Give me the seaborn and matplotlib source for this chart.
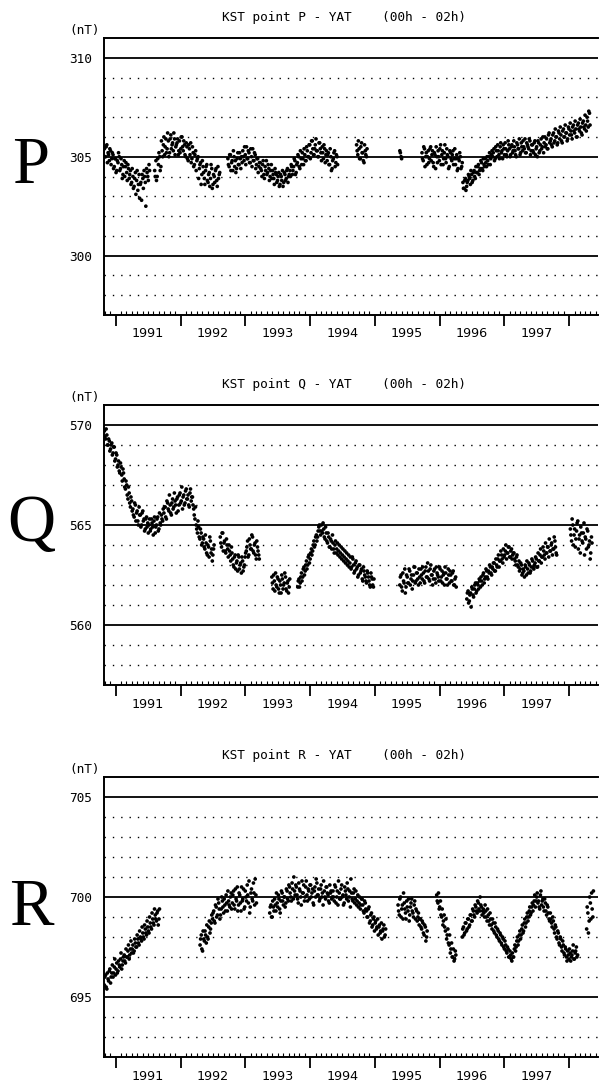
import numpy as np
import pandas as pd
import matplotlib
matplotlib.use("Agg")
import matplotlib.pyplot as plt
import matplotlib.dates as mdates
import matplotlib.transforms as mtransforms
import matplotlib.ticker as mticker
import seaborn as sns
from datetime import datetime

# ---------------- data ----------------
panel_letters = ["P", "Q", "R"]
panel_titles = ["KST point P - YAT    (00h - 02h)",
                "KST point Q - YAT    (00h - 02h)",
                "KST point R - YAT    (00h - 02h)"]
y_limits = [(297, 311), (557, 571), (692, 706)]
y_major = [[300, 305, 310], [560, 565, 570], [695, 700, 705]]
year_labels = [1991, 1992, 1993, 1994, 1995, 1996, 1997]
SAMPLE_DAYS = 7

# --- point P : first reading of the cloud ---
P_starts = ["1990-10-28", "1991-08-08", "1992-09-24", "1994-09-20", "1995-05-22", "1995-09-24"]
P_values = [
    [305.4, 305.0, 305.6, 305.2, 304.8, 305.3, 304.9, 305.1, 304.5, 304.9, 304.3, 304.7, 305.0,
     304.4, 304.6, 304.1, 304.8, 304.5, 304.2, 304.6, 303.9, 304.3, 303.7, 304.0, 303.5, 304.2,
     303.8, 303.3, 304.1, 303.6, 302.8, 303.9, 304.3, 303.7, 304.4, 304.0, 304.6],
    [304.3, 304.8, 304.0, 304.6, 305.0, 304.5, 305.3, 305.6, 305.1, 305.9, 305.4, 305.8, 305.2,
     306.1, 305.6, 305.3, 305.9, 305.5, 305.7, 305.1, 305.8, 305.4, 306.0, 305.3, 305.6, 305.0,
     305.5, 304.8, 305.4, 305.7, 304.9, 305.2, 304.6, 305.3, 304.8, 305.0, 304.4, 304.7, 304.1,
     304.5, 303.9, 304.3, 304.6, 303.7, 304.2, 303.9, 304.4, 303.6, 304.0, 304.3, 303.8, 304.5, 304.1],
    [304.9, 304.5, 305.1, 304.7, 304.3, 305.0, 304.8, 304.4, 305.2, 304.6, 304.9, 305.0,
     305.3, 304.8, 305.1, 305.5, 304.9, 305.2, 304.7, 305.0, 305.4, 304.8, 305.1, 304.6, 304.9, 304.5,
     304.7, 304.3, 304.6, 304.1, 304.5, 304.8, 304.2, 304.4, 304.0, 304.6, 304.3, 303.9, 304.4, 304.1,
     303.8, 304.2, 303.6, 304.0, 304.3, 303.7, 304.1, 303.9, 304.4, 304.0,
     304.3, 304.6, 304.1, 304.5, 304.8, 304.2, 304.7, 305.0, 304.4, 304.9, 305.2, 304.6, 305.1, 304.8,
     305.3, 305.0, 305.6, 305.2, 305.8, 305.1, 305.4, 305.9, 305.3, 305.0, 305.7, 305.2, 305.5, 304.9,
     305.4, 305.1,
     304.8, 305.2, 304.6, 305.0, 304.4, 304.9, 305.3, 304.7, 305.0],
    [305.6, 305.1, 305.4, 304.9, 305.7, 305.2, 304.7, 305.3, 305.0],
    [305.3, 305.0],
    [305.2, 304.8, 305.4, 305.0, 304.6, 305.3, 304.9, 305.5, 305.1, 304.7, 305.2, 304.4, 305.0, 305.3,
     304.8, 305.6, 305.1, 304.6, 305.2, 304.9, 305.4, 305.0, 304.5, 305.2, 304.8, 305.3, 304.9, 304.6,
     305.1, 304.4, 304.8, 305.0, 304.5,
     303.7, 303.4, 303.9, 303.5, 303.8, 304.0, 303.6, 304.1, 303.8, 304.3, 303.9, 304.2, 304.5, 304.1,
     304.4, 304.7, 304.3, 304.6, 304.9, 304.5, 304.8, 305.0, 304.6, 305.1,
     305.0, 305.4, 304.9, 305.3, 305.6, 305.1, 305.5, 305.2, 304.9, 305.4, 305.7, 305.1, 305.3, 305.6,
     305.0, 305.5, 305.2, 305.8, 305.3, 305.0, 305.6, 305.4, 305.1, 305.7, 305.3, 305.5, 305.9, 305.2,
     305.6, 305.4, 305.8, 305.3,
     305.6, 305.2, 305.8, 305.4, 305.0, 305.7, 305.3, 305.9, 305.5, 305.2, 306.0, 305.6, 305.4, 306.1,
     305.7, 305.9, 305.5, 306.2, 305.8, 306.0, 305.6, 306.3, 305.9, 306.1, 305.7, 306.4, 306.0, 306.2,
     305.8, 306.5, 306.1, 306.3, 305.9, 306.6, 306.2, 306.4, 306.0, 306.7, 306.3, 306.5, 306.1, 306.8,
     306.4, 306.6, 307.0, 306.5, 307.2],
]
# --- point P : second reading (mid-week) ---
P_starts_b = ["1990-10-31", "1991-08-11", "1992-09-27", "1994-09-23", "1995-05-25", "1995-09-27"]
P_values_b = [
    [305.0, 305.5, 304.7, 305.1, 305.4, 304.6, 305.2, 304.4, 304.9, 304.2, 304.8, 305.2, 304.3,
     304.9, 303.9, 304.5, 304.0, 304.7, 303.8, 304.4, 304.1, 303.6, 304.4, 303.4, 303.9, 303.1,
     304.3, 303.6, 302.9, 303.7, 304.1, 303.4, 304.0, 302.5, 304.2, 303.8, 304.3],
    [304.0, 303.8, 304.9, 305.2, 304.3, 305.8, 305.0, 306.0, 305.5, 305.2, 306.2, 305.0, 305.9,
     305.4, 305.7, 306.2, 305.1, 305.6, 305.9, 305.3, 305.2, 306.0, 305.5, 305.8, 305.1, 305.7,
     304.9, 305.6, 305.1, 304.7, 305.5, 304.5, 305.1, 304.3, 304.9, 303.9, 304.6, 303.6, 304.8,
     304.2, 303.6, 304.5, 303.8, 304.1, 303.5, 304.6, 303.4, 304.1, 303.7, 304.4, 303.5, 303.9, 304.2],
    [304.6, 305.1, 304.3, 304.8, 305.3, 304.5, 304.2, 304.9, 304.6, 305.2, 304.4, 304.7,
     305.0, 305.5, 304.6, 304.9, 305.3, 304.7, 305.4, 304.5, 304.8, 305.2, 304.4, 304.9, 304.2, 304.7,
     304.4, 304.0, 304.8, 303.9, 304.3, 304.1, 304.6, 303.8, 304.3, 303.9, 304.1, 303.6, 304.2, 303.7,
     304.0, 303.5, 304.1, 303.8, 303.5, 304.2, 303.8, 304.3, 303.7, 304.1,
     304.0, 304.5, 304.3, 304.9, 304.1, 304.6, 305.1, 304.5, 305.3, 304.6, 304.9, 305.4, 304.8, 305.5,
     305.0, 305.6, 304.9, 305.8, 305.4, 305.1, 305.6, 305.3, 305.0, 305.7, 305.4, 304.8, 305.2, 305.6,
     304.7, 305.3,
     305.1, 304.6, 305.4, 304.3, 304.8, 305.2, 304.5, 305.1, 304.6],
    [305.3, 305.8, 304.9, 305.5, 305.2, 304.8, 305.6, 305.1, 305.4],
    [305.2, 304.9],
    [304.9, 305.5, 304.5, 305.2, 305.0, 304.7, 305.4, 304.8, 305.3, 304.5, 305.1, 305.5, 304.7, 305.0,
     305.4, 304.6, 305.3, 304.9, 305.6, 304.7, 305.1, 304.4, 305.3, 304.9, 305.1, 304.6, 305.4, 304.9,
     304.3, 304.9, 305.2, 304.4, 304.7,
     303.4, 303.8, 303.3, 303.7, 304.1, 303.9, 304.3, 303.7, 304.2, 304.0, 304.5, 304.2, 304.6, 304.3,
     304.8, 304.4, 304.9, 304.5, 304.7, 305.0, 304.6, 305.2, 304.9, 305.3,
     305.2, 304.8, 305.5, 305.0, 305.3, 304.9, 305.7, 305.3, 305.6, 305.1, 305.4, 305.0, 305.8, 305.4,
     305.1, 305.6, 305.3, 305.5, 305.1, 305.7, 305.4, 305.9, 305.2, 305.5, 305.8, 305.4, 305.2, 305.7,
     305.5, 305.9, 305.1, 305.6,
     305.3, 305.7, 305.1, 305.5, 305.8, 305.2, 305.6, 305.4, 306.0, 305.7, 305.5, 305.9, 305.4, 306.2,
     305.8, 305.6, 306.1, 305.7, 306.4, 306.0, 305.7, 306.2, 306.5, 305.8, 306.3, 306.0, 306.6, 306.2,
     305.9, 306.4, 306.7, 306.1, 306.5, 306.3, 306.8, 306.0, 306.6, 306.4, 306.9, 306.2, 306.7, 306.5,
     307.1, 306.3, 306.8, 307.3, 306.6],
]

# --- point Q ---
Q_starts = ["1990-10-28", "1992-08-12", "1993-05-30", "1993-10-23", "1995-05-22", "1996-06-03", "1998-01-08"]
Q_values = [
    [569.7, 569.3, 569.5, 569.0, 569.2, 568.8, 569.1,
     568.6, 568.9, 568.3, 568.5, 568.0, 567.7, 568.1, 567.5, 567.8, 567.3,
     566.8, 567.0, 566.3, 566.6, 565.9, 566.2,
     565.8, 565.4, 566.0, 565.6, 565.2, 565.9, 565.5, 565.0, 565.7, 565.3, 564.8, 565.4, 565.1,
     565.0, 564.7, 565.3, 564.9, 565.2, 564.6, 565.0, 565.4, 564.8, 565.1, 565.5, 565.2,
     565.6, 565.9, 565.3, 566.1, 565.7, 566.0, 565.5, 566.3, 565.9, 566.2, 565.6, 566.4, 566.0, 566.6,
     566.2, 565.8, 566.5, 566.1, 566.8, 566.3, 566.0, 566.6, 566.2, 566.4,
     565.8, 565.3, 565.0, 564.6, 564.9, 564.3, 564.6, 564.1,
     564.3, 563.8, 564.1, 563.5, 563.9, 564.4, 563.6, 563.2, 563.8],
    [564.4, 563.9, 564.6, 564.1, 563.7, 564.3, 563.8, 564.0, 563.5, 563.9,
     563.3, 562.9, 563.5, 563.1, 562.7, 563.4, 563.0, 562.6, 563.2, 562.9, 563.4,
     563.7, 564.2, 563.5, 564.0, 563.8, 564.4, 563.6, 564.1, 563.3, 563.9, 563.5],
    [562.4, 561.8, 562.2, 562.6, 561.9, 562.3, 561.6, 562.0, 562.5, 561.8, 562.1, 562.4, 561.7, 562.2, 561.9],
    [561.9, 562.3, 562.1, 562.6, 562.4, 562.9, 562.7, 563.2, 563.0, 563.5, 563.3, 563.8, 563.7, 564.2,
     564.0, 564.5, 564.4, 564.9, 564.7,
     565.0, 564.6, 564.8, 564.3, 564.6, 564.1, 564.4, 563.9, 564.2, 564.5, 563.8, 564.0, 563.6, 564.1,
     563.7, 563.4, 563.9, 563.5, 563.2, 563.7, 563.3, 563.0, 563.5, 563.1, 562.8, 563.4, 563.0, 562.7,
     563.2, 562.9, 562.5, 563.0, 562.7, 562.3, 562.9, 562.5, 562.2, 562.7, 562.4, 562.0, 562.6, 562.3, 561.9],
    [562.0, 562.5, 561.7, 562.2, 562.8, 561.9, 562.4, 562.1, 562.7, 562.3, 561.8, 562.5, 562.9, 562.2,
     562.6, 562.0, 562.4, 562.8, 562.3, 562.6, 562.1, 562.9, 562.4, 562.7, 562.2, 563.0, 562.5, 562.3,
     562.8, 562.1, 562.6, 562.4, 562.9, 562.2, 562.7, 562.5, 562.0, 562.6, 562.3, 562.8, 562.1, 562.5,
     562.2, 562.7, 562.0, 562.4],
    [561.3, 561.7, 561.2, 561.6, 561.9, 561.5, 561.8, 562.1, 561.7, 562.0, 562.3, 561.9, 562.2, 562.5,
     562.1, 562.4, 562.7, 562.3, 562.6, 562.9, 562.5,
     562.8, 563.1, 562.7, 563.0, 563.3, 562.9, 563.2, 563.5, 563.1, 563.4, 563.7, 563.3, 563.6, 563.9,
     563.4, 563.8, 563.5,
     563.6, 563.2, 563.4, 563.0, 563.2, 562.8, 563.0, 562.6,
     562.7, 563.0, 562.5, 562.8, 563.1, 562.6, 562.9, 563.2,
     562.8, 563.1, 563.3, 562.9, 563.2, 563.5, 563.1, 563.4, 563.7, 563.3, 563.6, 563.9, 563.4, 563.7,
     564.0, 563.5, 563.8, 564.2, 563.6],
    [564.8, 564.2, 565.0, 564.5, 563.9, 564.7, 565.2, 564.3, 563.6, 564.6, 564.1, 565.1, 564.4, 563.8,
     564.7, 564.0, 563.3, 564.4],
]
Q_starts_b = ["1990-10-31", "1992-08-15", "1993-06-02", "1993-10-26", "1995-05-25", "1996-06-06", "1998-01-11"]
Q_values_b = [
    [569.4, 569.8, 569.0, 569.3, 568.7, 569.0, 568.5,
     568.9, 568.2, 568.6, 567.9, 568.2, 567.6, 567.9, 567.2, 567.6, 566.9,
     567.2, 566.5, 566.9, 566.1, 566.4, 565.7,
     565.5, 566.1, 565.2, 565.7, 565.0, 565.5, 564.9, 565.6, 565.2, 564.7, 565.3, 564.9, 564.6,
     565.3, 564.8, 565.1, 564.5, 565.4, 564.9, 565.3, 564.7, 565.6, 565.0, 565.3, 565.8,
     565.9, 565.4, 566.2, 565.8, 566.5, 565.6, 566.1, 565.8, 566.6, 566.0, 566.3, 565.7, 566.5, 566.1,
     566.9, 566.4, 566.0, 566.7, 566.3, 566.5, 565.9, 566.8, 566.4, 566.0,
     565.5, 565.9, 564.8, 565.2, 564.4, 564.8, 564.0, 564.4,
     563.9, 564.5, 563.6, 564.0, 563.4, 564.2, 563.8, 563.5, 564.0],
    [564.1, 564.6, 563.7, 564.2, 563.6, 564.0, 563.4, 563.7, 563.2, 563.6,
     563.0, 563.4, 562.8, 563.2, 563.5, 562.8, 563.1, 563.4, 562.7, 563.0, 563.6,
     563.9, 563.4, 564.3, 563.8, 564.5, 563.7, 564.0, 563.5, 564.2, 563.7, 563.3],
    [562.1, 562.5, 561.7, 562.0, 562.4, 561.8, 562.2, 561.6, 562.3, 562.0, 562.6, 561.8, 562.1, 561.6, 562.3],
    [562.2, 561.9, 562.4, 562.2, 562.8, 562.5, 563.0, 562.8, 563.4, 563.1, 563.6, 563.5, 564.0, 563.9,
     564.4, 564.2, 564.7, 565.0, 564.5,
     564.7, 565.1, 564.4, 564.9, 564.2, 564.6, 563.9, 564.3, 563.8, 564.1, 563.6, 564.2, 563.8, 563.5,
     564.0, 563.6, 563.3, 563.8, 563.4, 563.1, 563.6, 563.2, 562.9, 563.4, 562.9, 563.3, 562.6, 563.1,
     562.8, 562.4, 563.0, 562.6, 562.8, 562.2, 562.7, 562.4, 562.1, 562.6, 562.2, 561.9, 562.4, 562.0, 562.3],
    [562.4, 561.9, 562.6, 562.1, 561.6, 562.5, 562.1, 562.8, 562.0, 562.5, 562.2, 562.9, 562.1, 562.6,
     562.3, 562.8, 562.1, 562.5, 562.9, 562.2, 562.7, 562.4, 563.1, 562.3, 562.8, 562.5, 562.0, 562.7,
     562.3, 562.9, 562.5, 562.2, 562.8, 562.4, 562.1, 562.6, 562.9, 562.3, 562.0, 562.5, 562.7, 562.2,
     562.6, 562.0, 562.3, 561.9],
    [561.6, 561.1, 561.5, 560.9, 561.8, 561.4, 562.0, 561.6, 562.1, 561.8, 562.2, 562.4, 562.0, 562.6,
     562.3, 562.8, 562.4, 562.7, 563.0, 562.6, 562.9,
     563.1, 562.7, 563.3, 562.9, 563.5, 563.2, 563.7, 563.3, 563.8, 563.5, 564.0, 563.6, 563.9, 563.4,
     563.7, 563.3, 563.6,
     563.3, 563.0, 563.5, 562.9, 562.7, 563.1, 562.5, 562.8,
     562.4, 562.9, 563.2, 562.6, 563.0, 562.7, 563.3, 562.9,
     563.0, 563.4, 562.9, 563.6, 563.2, 563.8, 563.4, 563.9, 563.5, 564.1, 563.6, 563.9, 564.3, 563.7,
     564.1, 563.8, 564.4, 563.9, 563.5],
    [564.5, 565.3, 564.0, 564.8, 564.3, 565.1, 563.8, 564.5, 564.9, 564.2, 564.6, 563.5, 564.3, 564.8,
     563.9, 564.2, 563.6, 564.1],
]

# --- point R ---
R_starts = ["1990-10-28", "1992-04-20", "1993-05-18", "1995-05-12", "1995-12-16", "1996-05-08", "1998-04-10"]
R_values = [
    [695.6, 696.1, 695.4, 695.9, 696.3, 695.7, 696.2, 696.0, 696.5, 696.1, 696.7, 696.3, 696.6, 696.9,
     696.4, 696.8, 697.1, 696.7, 697.0, 697.3, 696.9, 697.4, 697.2, 697.6, 697.3, 697.7, 697.5, 697.9,
     697.6, 698.0, 697.8, 698.2, 697.9, 698.4, 698.1, 698.5, 698.2, 698.7, 698.4, 698.9, 698.6, 699.1,
     698.8, 699.3, 698.9],
    [697.6, 698.1, 697.3, 697.9, 698.3, 697.7, 698.0, 698.5, 698.2, 698.7,
     698.9, 699.3, 698.7, 699.5, 699.1, 699.7, 698.9, 699.4, 699.8, 699.2, 699.6, 700.1, 699.3, 699.8,
     699.5, 700.2,
     699.7, 700.3, 699.4, 699.9, 700.5, 699.6, 700.1, 699.3, 699.8, 700.4, 699.5, 700.0, 700.6, 699.7,
     699.2, 700.2, 699.9, 700.7, 699.6, 700.1],
    [699.2, 699.6, 699.0, 699.5, 699.9, 699.3, 699.7, 700.1, 699.4, 699.8, 700.2, 699.6, 700.0, 699.7,
     700.3, 699.8, 700.5, 700.0, 700.7, 699.9, 700.3, 700.6, 700.1, 699.7, 700.4, 700.0, 700.8, 700.2,
     699.8, 700.5, 700.1, 700.4, 699.9, 700.6, 700.2, 699.7, 700.3, 700.0, 700.7, 700.1, 699.8, 700.4,
     700.0, 699.6, 700.3, 699.9, 700.5, 700.1, 699.7, 700.2, 699.9,
     700.3, 699.8, 700.5, 700.0, 699.6, 700.2, 699.9, 700.6, 700.1, 699.7, 700.3, 699.9, 700.4, 700.0,
     699.5, 700.2, 699.8, 700.4, 699.9, 699.6, 700.1, 699.7, 699.4, 699.9, 699.6, 699.2, 699.7,
     699.3, 699.0, 699.5, 698.8, 699.2, 698.6, 699.0, 698.7, 698.4, 698.9, 698.5, 698.2, 698.7, 698.3,
     698.6, 698.1],
    [699.6, 699.1, 700.0, 699.4, 698.9, 699.7, 699.2, 699.8, 699.3, 698.8, 699.5, 699.9, 699.2, 699.6,
     698.9, 699.3, 699.0, 698.6, 698.9, 698.4, 698.7, 698.1, 698.5, 698.0],
    [700.1, 699.7, 699.4, 699.8, 699.0, 698.6, 699.1, 698.3, 697.9, 698.4, 697.6, 697.2, 697.7, 697.0,
     696.8, 697.3],
    [698.0, 698.5, 698.2, 698.7, 698.4, 698.9, 698.6, 699.1, 698.8, 699.3, 699.0, 699.5, 699.2, 699.7,
     699.3, 699.6, 699.1,
     699.4, 699.0, 699.3, 698.8, 699.1, 698.6, 698.9, 698.4, 698.7, 698.2, 698.5, 698.0, 698.3, 697.8,
     698.1, 697.6, 697.9, 697.4, 697.6, 697.2, 697.4, 697.0, 697.1, 696.8,
     697.0, 697.4, 697.3, 697.8, 697.6, 698.1, 697.9, 698.4, 698.2, 698.7, 698.5, 699.0, 698.8, 699.3,
     699.1, 699.5, 699.3, 699.8, 699.5, 700.0, 699.7,
     699.5, 700.1, 699.6, 699.9, 699.3, 699.7, 699.1, 699.5, 698.9, 699.2,
     698.7, 699.0, 698.4, 698.6, 698.0, 698.3, 697.7, 698.0, 697.5, 697.8, 697.2, 697.5, 697.0, 697.3,
     696.9, 697.2, 697.0, 697.3, 696.9, 697.2, 697.5, 697.1],
    [698.4, 699.2, 698.8, 699.7, 700.2, 699.0],
]
R_starts_b = ["1990-10-31", "1992-04-23", "1993-05-21", "1995-05-15", "1995-12-19", "1996-05-11", "1998-04-13"]
R_values_b = [
    [696.0, 695.5, 696.2, 695.8, 696.4, 696.0, 696.6, 696.2, 696.9, 696.4, 696.2, 696.8, 696.5, 697.2,
     696.6, 697.0, 696.8, 697.4, 697.0, 697.6, 697.1, 697.8, 697.4, 697.2, 697.9, 697.5, 698.1, 697.7,
     698.3, 697.9, 698.5, 698.0, 698.6, 698.2, 698.8, 698.3, 699.0, 698.5, 699.2, 698.7, 699.4, 698.9,
     699.2, 698.6, 699.4],
    [697.9, 697.4, 698.3, 697.8, 698.1, 698.6, 697.9, 698.8, 698.4, 699.1,
     699.2, 698.8, 699.6, 699.0, 699.9, 699.4, 699.1, 700.0, 699.5, 699.9, 699.3, 699.7, 700.3, 699.6,
     700.0, 699.4,
     700.1, 699.6, 700.4, 699.8, 699.3, 700.2, 699.7, 700.5, 699.9, 699.4, 700.3, 699.8, 700.1, 700.8,
     699.5, 700.4, 699.8, 700.2, 700.9, 699.7],
    [699.5, 699.0, 699.8, 699.3, 699.6, 700.2, 699.5, 699.9, 699.2, 700.3, 699.8, 700.0, 699.5, 700.4,
     699.9, 700.6, 700.2, 699.8, 700.4, 701.0, 700.1, 700.5, 699.9, 700.7, 700.3, 699.6, 700.2, 700.6,
     700.0, 700.8, 699.8, 700.3, 700.6, 700.0, 700.4, 699.6, 700.5, 700.9, 700.1, 700.4, 699.9, 700.6,
     700.2, 700.8, 700.0, 700.5, 700.2, 699.8, 700.6, 700.3, 700.0,
     700.0, 700.6, 699.7, 700.3, 700.8, 699.9, 700.4, 700.0, 699.6, 700.5, 700.1, 700.7, 699.8, 700.3,
     700.9, 699.9, 700.2, 699.7, 700.3, 699.8, 699.5, 700.0, 699.6, 699.9, 699.3, 699.8, 699.4,
     699.0, 699.4, 698.7, 699.1, 698.5, 698.9, 698.3, 698.8, 698.5, 698.1, 698.6, 698.3, 697.9, 698.4,
     698.0, 698.4],
    [699.3, 699.9, 699.0, 699.6, 700.2, 699.4, 698.9, 699.5, 699.9, 699.1, 699.7, 699.3, 699.0, 699.8,
     699.4, 698.8, 699.2, 698.9, 698.5, 698.8, 698.2, 698.6, 697.8, 698.3],
    [699.8, 700.2, 699.5, 699.1, 699.4, 698.8, 698.5, 698.9, 698.1, 697.7, 698.1, 697.4, 697.0, 697.4,
     696.9, 697.1],
    [698.4, 698.1, 698.7, 698.3, 698.9, 698.5, 699.1, 698.8, 699.4, 699.1, 699.6, 699.3, 699.8, 699.4,
     700.0, 699.5, 699.3,
     699.2, 699.6, 699.0, 699.4, 698.8, 699.2, 698.6, 698.9, 698.3, 698.7, 698.1, 698.4, 697.9, 698.2,
     697.7, 698.0, 697.5, 697.8, 697.3, 697.5, 697.0, 697.3, 696.9,
     697.2, 697.0, 697.6, 697.5, 698.0, 697.8, 698.3, 698.1, 698.6, 698.3, 698.9, 698.7, 699.2, 699.0,
     699.5, 699.2, 699.7, 699.6, 700.1, 699.8, 700.2,
     699.8, 699.4, 700.3, 699.8, 699.5, 699.9, 699.3, 699.6, 699.2, 698.8,
     698.9, 698.5, 698.8, 698.2, 698.5, 697.9, 698.2, 697.6, 697.9, 697.3, 697.6, 697.1, 697.4, 696.8,
     697.1, 697.4, 696.8, 697.1, 697.6, 696.9, 697.3, 697.0],
    [699.5, 698.2, 700.0, 698.9, 699.4, 700.3],
]


def build_frame(start_lists, value_lists):
    frames = []
    for starts, values in zip(start_lists, value_lists):
        for s, v in zip(starts, values):
            dates = pd.date_range(s, periods=len(v), freq=f"{SAMPLE_DAYS}D")
            frames.append(pd.DataFrame({"date": dates, "value": v}))
    return pd.concat(frames, ignore_index=True)


panel_frames = [build_frame([P_starts, P_starts_b], [P_values, P_values_b]),
                build_frame([Q_starts, Q_starts_b], [Q_values, Q_values_b]),
                build_frame([R_starts, R_starts_b], [R_values, R_values_b])]

# ---------------- figure ----------------
sns.set_style("white")
plt.rcParams["font.family"] = ["DejaVu Sans Mono", "DejaVu Sans"]
plt.rcParams["text.color"] = "black"
plt.rcParams["xtick.color"] = "black"
plt.rcParams["ytick.color"] = "black"
plt.rcParams["axes.labelcolor"] = "black"

W, H = 599, 1083
fig = plt.figure(figsize=(W / 100, H / 100), dpi=100)

# axes boxes in pixels: (left, top, right, bottom)
boxes = [(104, 38, 598, 315), (104, 405, 598, 685), (104, 777, 598, 1057)]
title_y = [17, 385, 755]
letter_base = [183, 541, 925]

x_start = datetime(1990, 10, 26)
x_end = datetime(1998, 6, 13)

for i in range(3):
    l, t, r, b = boxes[i]
    ax = fig.add_axes([l / W, 1 - b / H, (r - l) / W, (b - t) / H])
    df = panel_frames[i]
    lo, hi = y_limits[i]

    # grid lines: solid at every 5 nT, dotted at every 1 nT
    for v in range(lo + 1, hi):
        if v % 5 == 0:
            ax.axhline(v, color="black", lw=1.3, zorder=1)
        else:
            ax.axhline(v, color="black", lw=1.0, ls=(0, (1.0, 5.0)), zorder=1)

    sns.scatterplot(data=df, x="date", y="value", ax=ax, color="black",
                    s=7, marker="o", edgecolor="none", linewidth=0,
                    legend=False, zorder=3)

    ax.set_xlim(x_start, x_end)
    ax.set_ylim(lo, hi)
    ax.set_xlabel("")
    ax.set_ylabel("")

    ax.set_yticks(y_major[i])
    ax.set_yticklabels([str(v) for v in y_major[i]], fontsize=9.2,
                       family="DejaVu Sans Mono")
    ax.tick_params(axis="y", length=0, pad=8.5)

    ax.xaxis.set_major_locator(mdates.YearLocator())
    ax.xaxis.set_minor_locator(mdates.MonthLocator())
    ax.xaxis.set_major_formatter(mticker.NullFormatter())
    ax.xaxis.set_minor_formatter(mticker.NullFormatter())
    ax.tick_params(axis="x", which="major", direction="out", length=8,
                   width=1.3, color="black", bottom=True, top=False)
    ax.tick_params(axis="x", which="minor", direction="in", length=3,
                   width=0.8, color="black", bottom=True, top=False)

    for side in ["left", "top", "bottom"]:
        ax.spines[side].set_visible(True)
        ax.spines[side].set_color("black")
        ax.spines[side].set_linewidth(1.4)
    ax.spines["right"].set_visible(False)

    trans = mtransforms.blended_transform_factory(ax.transData, ax.transAxes)
    for yr in year_labels:
        ax.text(datetime(yr, 7, 1), -0.045, str(yr), transform=trans,
                ha="center", va="top", fontsize=9.2, family="DejaVu Sans")

    ax.text(-0.008, 1.005, "(nT)", transform=ax.transAxes, ha="right",
            va="bottom", fontsize=9.2, family="DejaVu Sans Mono")

    fig.text(222 / W, 1 - title_y[i] / H, panel_titles[i], ha="left",
             va="center", fontsize=9.2, family="DejaVu Sans Mono")

    fig.text(31 / W, 1 - letter_base[i] / H, panel_letters[i], ha="center",
             va="baseline", fontsize=48, family="Liberation Serif")

fig.savefig("out.png", dpi=100)
